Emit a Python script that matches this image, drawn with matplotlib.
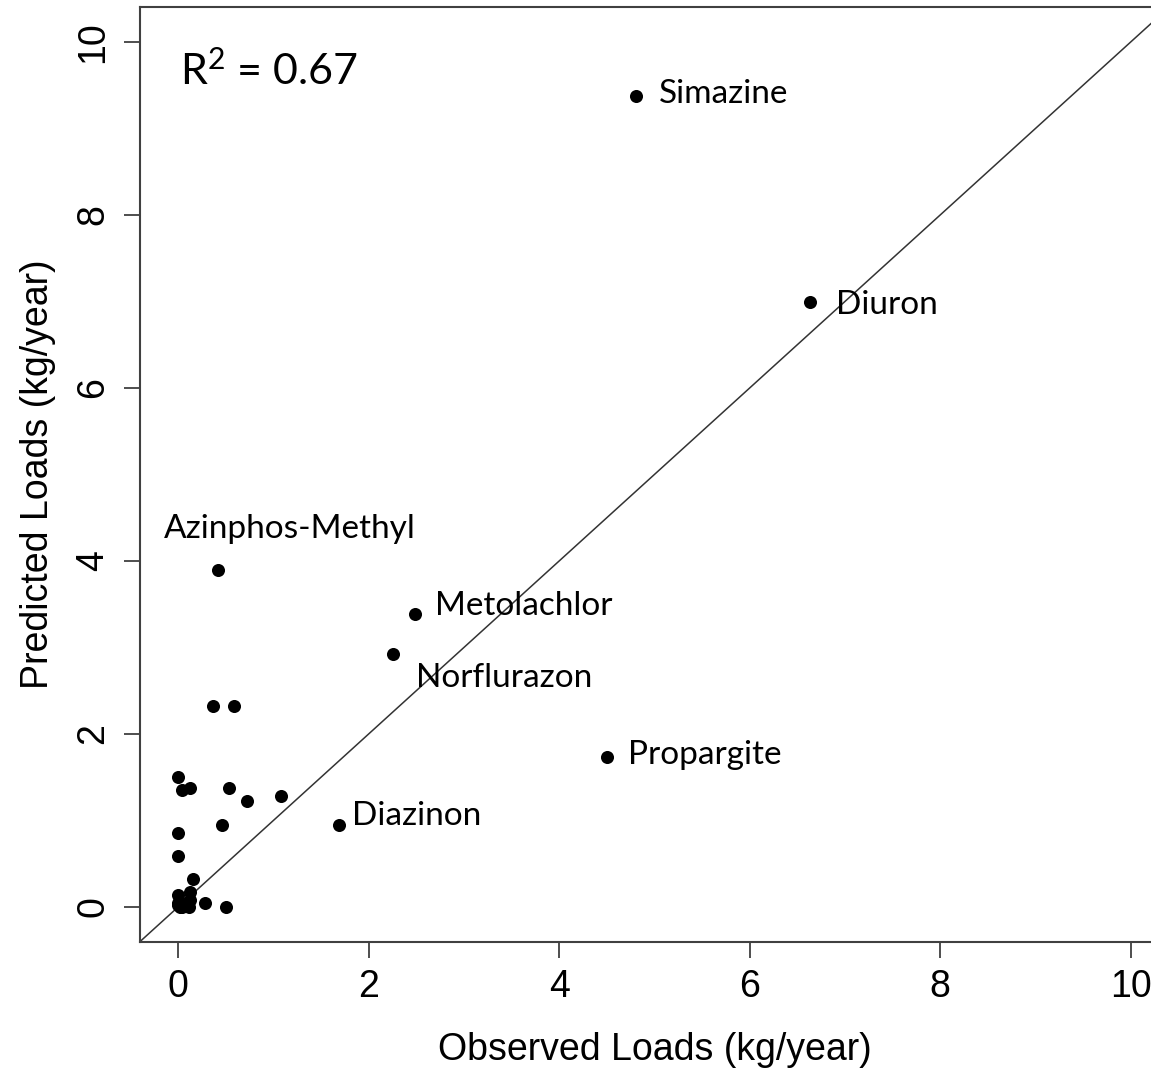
import matplotlib
matplotlib.use("Agg")
import matplotlib.pyplot as plt
from matplotlib import font_manager

# observed vs predicted loads (kg/year)
names = ["Simazine", "Diuron", "Azinphos-Methyl", "Metolachlor",
         "Norflurazon", "Propargite", "Diazinon"]
named_obs = [4.81, 6.63, 0.42, 2.49, 2.26, 4.50, 1.69]
named_pred = [9.38, 6.99, 3.90, 3.39, 2.93, 1.73, 0.95]

other_obs = [0.37, 0.59, 0.00, 0.04, 0.12, 0.53, 0.72, 1.08, 0.46, 0.00,
             0.00, 0.16, 0.13, 0.00, 0.28, 0.50, 0.00, 0.04, 0.11, 0.02,
             0.13, 0.08, 0.00]
other_pred = [2.32, 2.32, 1.50, 1.35, 1.38, 1.37, 1.23, 1.28, 0.95, 0.86,
              0.59, 0.32, 0.17, 0.14, 0.05, 0.00, 0.05, 0.00, 0.00, 0.00,
              0.08, 0.05, 0.02]

# label anchors (left, baseline) in data units
label_pos = {
    "Simazine": (5.05, 9.30),
    "Diuron": (6.91, 6.86),
    "Azinphos-Methyl": (-0.15, 4.27),
    "Metolachlor": (2.70, 3.38),
    "Norflurazon": (2.50, 2.54),
    "Propargite": (4.72, 1.65),
    "Diazinon": (1.83, 0.95),
}
r2_text = r"R$^{2}$ = 0.67"

available = {f.name for f in font_manager.fontManager.ttflist}
if "Liberation Sans Narrow" in available:
    axis_font, axis_size = "Liberation Sans Narrow", 32
else:
    axis_font, axis_size = "Liberation Sans", 27
label_font = "Lato"

plt.rcParams["mathtext.fontset"] = "custom"
plt.rcParams["mathtext.rm"] = label_font
plt.rcParams["mathtext.default"] = "rm"

fig = plt.figure(figsize=(11.51, 10.69), dpi=100)
ax = fig.add_axes([0.12163, 0.11918, 0.89383, 0.8739])

ax.plot(named_obs + other_obs, named_pred + other_pred, "o", color="black",
        markersize=9.4, markeredgewidth=0, zorder=3)
ax.axline((0, 0), slope=1, color="#333333", linewidth=1.1, zorder=2)

for name in names:
    lx, ly = label_pos[name]
    ax.text(lx, ly, name, fontfamily=label_font, fontsize=24,
            ha="left", va="baseline", zorder=4)
ax.text(0.024, 9.51, r2_text, fontfamily=label_font, fontsize=31,
        ha="left", va="baseline")

ax.set_xlim(-0.4, 10.4)
ax.set_ylim(-0.4, 10.4)
ax.set_xticks([0, 2, 4, 6, 8, 10])
ax.set_yticks([0, 2, 4, 6, 8, 10])

for s in ax.spines.values():
    s.set_linewidth(1.5)
    s.set_color("#404040")

ax.tick_params(axis="both", direction="out", length=11.5, width=1.3,
               color="#404040", labelsize=axis_size)
ax.tick_params(axis="x", pad=8)
ax.tick_params(axis="y", pad=9, labelrotation=90)
for lab in ax.get_yticklabels():
    lab.set_verticalalignment("center")
for lab in ax.get_xticklabels() + ax.get_yticklabels():
    lab.set_fontfamily(axis_font)

ax.set_xlabel("Observed Loads (kg/year)", fontfamily=axis_font,
              fontsize=axis_size, labelpad=20)
ax.set_ylabel("Predicted Loads (kg/year)", fontfamily=axis_font,
              fontsize=axis_size, labelpad=14)

fig.savefig("out.png", dpi=100)
